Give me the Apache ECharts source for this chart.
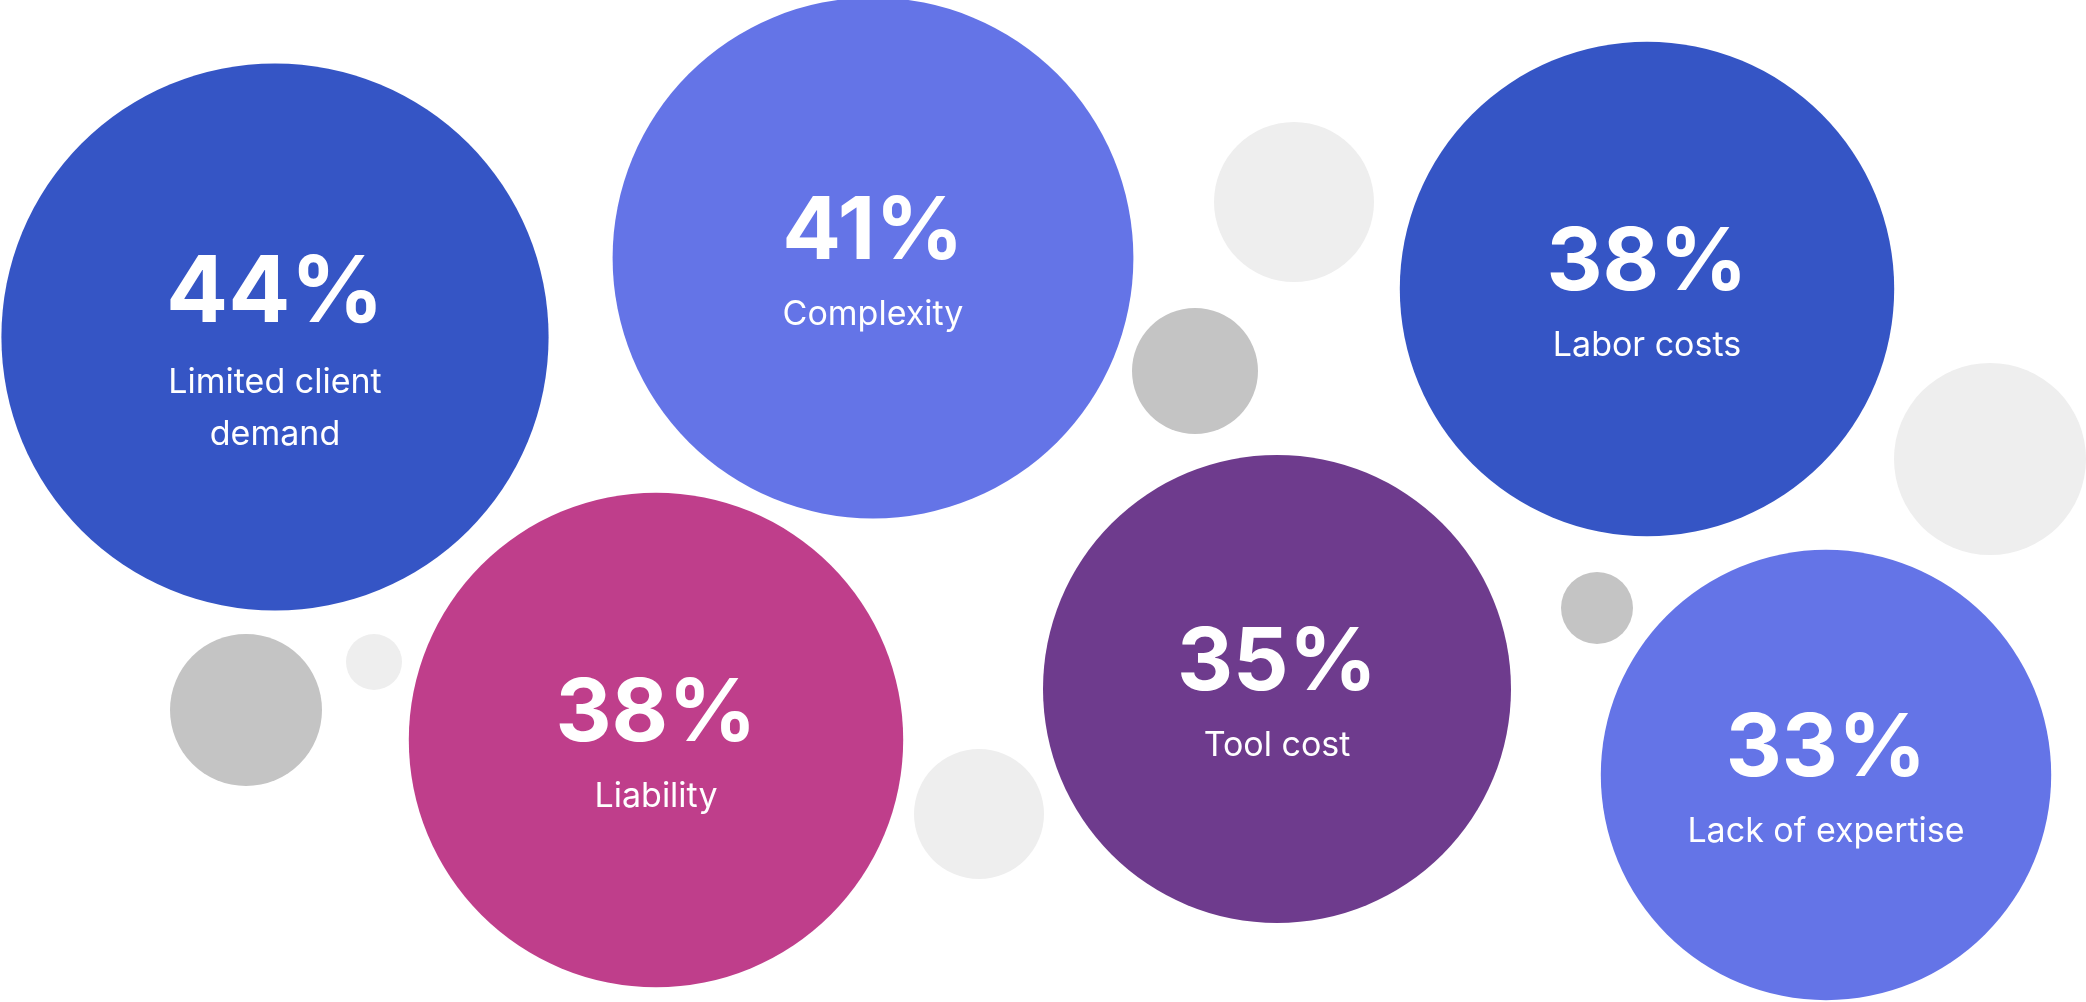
<!DOCTYPE html>
<html lang="en">
<head>
    <meta charset="UTF-8">
    <title>Barriers</title>
    <script src="https://cdn.jsdelivr.net/npm/echarts@6/dist/echarts.min.js"></script>
    <style>
        html, body { margin: 0; padding: 0; background: #ffffff; }
        #main { width: 2086px; height: 1002px; }
    </style>
</head>
<body>
<div id="main"></div>
<script>
    var categories = ['Limited client\ndemand', 'Complexity', 'Labor costs', 'Liability', 'Tool cost', 'Lack of expertise'];
    var values = [44, 41, 38, 38, 35, 33];

    // layout of the bubbles on the board (chart units = px)
    var bubbleX = [275, 873, 1647, 656, 1277, 1826];
    var bubbleY = [337, 258, 289, 740, 689, 775];
    var bubbleColors = ['#3555c5', '#6474e7', '#3555c5', '#bf3e8b', '#6e3b8d', '#6474e7'];

    // grey filler dots, they carry no value
    var dotX = [1294, 1195, 1990, 1597, 246, 374, 979];
    var dotY = [202, 371, 459, 608, 710, 662, 814];
    var dotR = [80, 63, 96, 36, 76, 28, 65];
    var dotColors = ['#eeeeee', '#c4c4c4', '#eeeeee', '#c4c4c4', '#c4c4c4', '#eeeeee', '#eeeeee'];

    function radius(v) {
        return 80 + 4.4 * v;
    }

    var myChart = echarts.init(document.getElementById('main'));

    var bubbles = [];
    for (var i = 0; i < values.length; i++) {
        var lines = categories[i].split('\n');
        var txt = '{num|' + values[i] + '%}';
        for (var j = 0; j < lines.length; j++) {
            txt += '\n{lab|' + lines[j] + '}';
        }
        var item = {
            name: categories[i],
            value: [bubbleX[i], bubbleY[i], values[i]],
            itemStyle: { color: bubbleColors[i] },
            label: { formatter: txt, offset: [0, 1] }
        };
        if (lines.length > 1) {
            // the biggest bubble has a bigger number and a two line caption
            item.label.offset = [0, 9];
            item.label.rich = {
                num: { fontSize: 92, lineHeight: 126 }
            };
        }
        bubbles.push(item);
    }

    var dots = [];
    for (var k = 0; k < dotX.length; k++) {
        dots.push({
            value: [dotX[k], dotY[k], dotR[k]],
            itemStyle: { color: dotColors[k] }
        });
    }

    myChart.setOption({
        animation: false,
        backgroundColor: '#ffffff',
        grid: { left: 0, right: 0, top: 0, bottom: 0 },
        xAxis: { type: 'value', min: 0, max: 2086, show: false },
        yAxis: { type: 'value', min: 0, max: 1002, inverse: true, show: false },
        series: [
            {
                name: 'dots',
                type: 'scatter',
                silent: true,
                data: dots,
                symbolSize: function (d) { return d[2] * 2; },
                itemStyle: { opacity: 1 }
            },
            {
                name: 'barriers',
                type: 'scatter',
                data: bubbles,
                symbolSize: function (d) { return radius(d[2]) * 2; },
                itemStyle: { opacity: 1 },
                label: {
                    show: true,
                    position: 'inside',
                    align: 'center',
                    color: '#ffffff',
                    fontFamily: 'Inter',
                    rich: {
                        num: {
                            fontFamily: 'Inter',
                            fontSize: 87,
                            fontWeight: 'bold',
                            color: '#ffffff',
                            lineHeight: 112,
                            align: 'center'
                        },
                        lab: {
                            fontFamily: 'Inter',
                            fontSize: 34,
                            color: '#ffffff',
                            lineHeight: 52,
                            align: 'center'
                        }
                    }
                }
            }
        ]
    });
</script>
</body>
</html>
